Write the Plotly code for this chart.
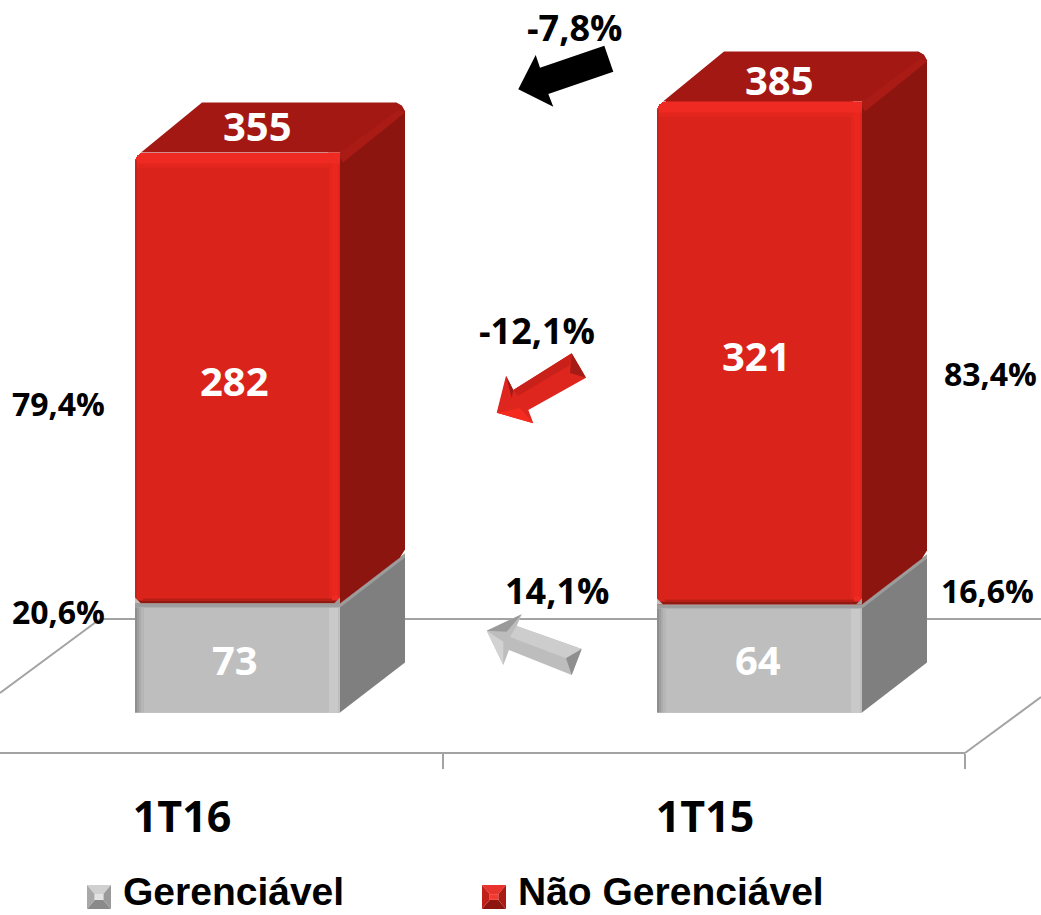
import plotly.graph_objects as go

# ---- data ----
periodos = ["1T16", "1T15"]
gerenciavel_rotulo = [73, 64]
nao_gerenciavel_rotulo = [282, 321]
total_rotulo = [355, 385]
gerenciavel_altura = [68.8, 68.1]      # drawn height, as measured on the picture
nao_gerenciavel_altura = [284.5, 317.4]
pct_gerenciavel = ["20,6%", "16,6%"]
pct_nao_gerenciavel = ["79,4%", "83,4%"]
var_total = "-7,8%"
var_nao_gerenciavel = "-12,1%"
var_gerenciavel = "14,1%"
serie_nomes = ["Gerenciável", "Não Gerenciável"]

# ---- layout constants ----
W, H = 1041, 915
PLOT_B = 753            # pixel row of the category axis
PX_X, PX_Y = 522.0, 1.585
X0_PX, Y0_PX = 237.5, 712.5
BAR_W = 205 / PX_X
DX, DY = 65 / PX_X, 50 / PX_Y
FONT = "Open Sans"
LEGEND_FONT = "Liberation Sans"
GRID = "#A3A3A3"
TOTAL_YSHIFT = [27, 22]
RED_YSHIFT = [-3, -2]
GREY_YSHIFT = [-2, -1]
GREY_XSHIFT = [-3, -2]


def ux(px):
    return px / PX_X


def uy(px):
    return px / PX_Y


def P(x, y):
    return x / W, 1 - y / PLOT_B


fig = go.Figure()
xs = list(range(len(periodos)))

# front faces: real stacked bars; base colour is the bevel highlight
fig.add_bar(x=xs, y=gerenciavel_altura, width=BAR_W, marker_color="#C9C9C9", name=serie_nomes[0],
            marker_line_width=0, showlegend=False, hoverinfo="skip")
fig.add_bar(x=xs, y=nao_gerenciavel_altura, width=BAR_W, marker_color="#EE2A22", name=serie_nomes[1],
            marker_line_width=0, showlegend=False, hoverinfo="skip")


def poly(pts, color):
    px_, py_ = zip(*pts)
    fig.add_scatter(x=list(px_) + [px_[0]], y=list(py_) + [py_[0]], mode="lines",
                    fill="toself", fillcolor=color, line=dict(width=0),
                    showlegend=False, hoverinfo="skip")


def rect(x0, x1, y0, y1, color):
    poly([(x0, y0), (x1, y0), (x1, y1), (x0, y1)], color)


for i in xs:
    l, r = i - BAR_W / 2, i + BAR_W / 2
    g = gerenciavel_altura[i]
    t = g + nao_gerenciavel_altura[i]
    c = ux(9)   # rounding of the far corner
    cy = uy(9)
    # grey side
    poly([(r, 0), (r + DX, DY), (r + DX, g + DY), (r, g)], "#7F7F7F")
    poly([(r, g), (r + DX, g + DY), (r + DX, g + DY - uy(4)), (r, g - uy(4))], "#9C9C9C")
    # red side
    poly([(r, g), (r + DX - ux(5), g + DY - uy(4)), (r + DX, g + DY + uy(4)), (r + DX, t + DY - cy),
          (r + DX - c * .35, t + DY - cy * .35), (r + DX - c, t + DY), (r, t)], "#8C150F")
    # red top
    poly([(l + ux(6), t), (l + DX + ux(2), t + DY), (r + DX - c, t + DY),
          (r + DX - c * .35, t + DY - cy * .35), (r + DX, t + DY - cy), (r, t)], "#A31813")
    # bevel along the top-right edge
    poly([(r - ux(2), t - uy(2)), (r + DX - c * .8, t + DY - cy * .8), (r + DX, t + DY - cy * 1.1),
          (r + ux(3), t - uy(10))], "#AA1B15")
    # squared-off highlight at the near top-right corner
    poly([(r - ux(12), t), (r, t), (r, t - uy(12))], "#EE2A22")
    # red front inner face, with stepped soft bevels
    rect(l + ux(2), r - ux(11), g + uy(3), t - uy(15), "#DA241B")
    rect(l + ux(2), r - ux(11), t - uy(15), t - uy(11), "#E2261D")
    rect(r - ux(11), r - ux(8), g + uy(3), t - uy(11), "#E2261D")
    rect(r - ux(8), r - ux(2), g + uy(8), t - uy(11), "#EB261E")
    rect(r - ux(2), r, g + uy(6), t - uy(11), "#DF241C")
    rect(l, r, g, g + uy(3), "#8F1A12")
    rect(l + ux(8), r - ux(8), g + uy(3), g + uy(5), "#B81E16")
    rect(l, l + ux(2), g + uy(3), t - uy(8), "#C8221A")
    # rounded lower corners of the red block
    poly([(l, g), (l + ux(6), g), (l, g + uy(6))], "#C0C0C0")
    poly([(r, g), (r - ux(6), g), (r, g + uy(6))], "#9C9C9C")
    # grey front inner face, with stepped soft bevels
    rect(l, r - ux(11), 0, g - uy(4), "#BEBEBE")
    rect(l, r, g - uy(4), g, "#9E9E9E")
    rect(r - ux(2), r, 0, g - uy(4), "#BEBEBE")
    rect(l, l + ux(2), 0, g - uy(4), "#8E8E8E")
    rect(l + ux(2), l + ux(4), 0, g - uy(4), "#9E9E9E")
    rect(l + ux(4), l + ux(6), 0, g - uy(4), "#ABABAB")
    rect(l + ux(6), l + ux(9), 0, g - uy(4), "#B6B6B6")

annotations = []


def txt(s, x, y, size, color="#000000", family=FONT):
    px_, py_ = P(x, y)
    annotations.append(dict(text=f"<b>{s}</b>", x=px_, y=py_, xref="paper", yref="paper",
                            showarrow=False, xanchor="center", yanchor="middle",
                            font=dict(family=family, size=size, color=color)))


def bar_label(value, i, y, xshift, yshift):
    annotations.append(dict(text=f"<b>{value}</b>", x=i, y=y, xref="x", yref="y",
                            xshift=xshift, yshift=yshift, showarrow=False,
                            xanchor="center", yanchor="middle",
                            font=dict(family=FONT, size=40, color="#FFFFFF")))


for i in xs:
    g = gerenciavel_altura[i]
    n = nao_gerenciavel_altura[i]
    bar_label(gerenciavel_rotulo[i], i, g / 2, GREY_XSHIFT[i], GREY_YSHIFT[i])
    bar_label(nao_gerenciavel_rotulo[i], i, g + n / 2, -3, RED_YSHIFT[i])
    bar_label(total_rotulo[i], i, g + n, 19.5, TOTAL_YSHIFT[i])

txt(pct_nao_gerenciavel[0], 58, 403, 32)
txt(pct_gerenciavel[0], 58, 611, 32)
txt(pct_nao_gerenciavel[1], 990, 373, 32)
txt(pct_gerenciavel[1], 987, 590, 32)
txt(var_total, 574, 28, 36)
txt(var_nao_gerenciavel, 537, 330, 36)
txt(var_gerenciavel, 557, 590, 36)
txt(serie_nomes[0], 233, 891, 39, family=LEGEND_FONT)
txt(serie_nomes[1], 671, 891, 39, family=LEGEND_FONT)

shapes = []


def line(x0, y0, x1, y1):
    a, b = P(x0, y0)
    c, d = P(x1, y1)
    shapes.append(dict(type="line", xref="paper", yref="paper", x0=a, y0=b, x1=c, y1=d,
                       line=dict(color=GRID, width=2), layer="below"))


def arrow(pts, color):
    path = "M " + " L ".join("%.5f,%.5f" % P(*p) for p in pts) + " Z"
    shapes.append(dict(type="path", xref="paper", yref="paper", path=path,
                       fillcolor=color, line=dict(width=0), layer="above"))


def swatch(x, y, s, top, bottom, left, right, centre):
    a, b = x + s, y + s
    cx0, cx1, cy0, cy1 = x + s * .32, x + s * .68, y + s * .38, y + s * .62
    arrow([(x, y), (a, y), (cx1, cy0), (cx0, cy0)], top)
    arrow([(x, b), (a, b), (cx1, cy1), (cx0, cy1)], bottom)
    arrow([(x, y), (cx0, cy0), (cx0, cy1), (x, b)], left)
    arrow([(a, y), (cx1, cy0), (cx1, cy1), (a, b)], right)
    arrow([(cx0, cy0), (cx1, cy0), (cx1, cy1), (cx0, cy1)], centre)


# floor of the 3D box
line(0, 753, 965, 753)
line(965, 753, 1041, 697)
line(0, 693, 100, 619)
line(100, 619, 1041, 619)

# black arrow
arrow([(604.3, 45.7), (613.3, 71.7), (548.3, 94), (553.3, 106.7), (518.3, 89.3), (535.7, 55), (540, 67.7)], "#000000")
# red arrow
arrow([(571.7, 353.3), (586, 377.7), (528.3, 410), (533.3, 423.3), (496.7, 412.7), (506, 375.7), (513.3, 390)], "#DE261E")
arrow([(571.7, 353.3), (586, 377.7), (570, 373)], "#A51C16")
arrow([(571.7, 353.3), (513.3, 390), (518, 396), (570, 365)], "#C9211A")
arrow([(506, 375.7), (513.3, 390), (511.7, 398)], "#9E1B15")
arrow([(496.7, 412.7), (533.3, 423.3), (520, 408.3)], "#F62B20")
# grey arrow
arrow([(486.7, 630.7), (521.7, 614.3), (516.7, 626), (581.7, 649), (571.7, 675), (509, 650), (503.3, 665)], "#BDBDBD")
arrow([(516.7, 626), (581.7, 649), (566, 658.3), (510, 637)], "#CDCDCD")
arrow([(581.7, 649), (571.7, 675), (566, 658.3)], "#8F8F8F")
arrow([(486.7, 630.7), (521.7, 614.3), (506.7, 631.7)], "#9A9A9A")
arrow([(486.7, 630.7), (503.3, 665), (503.3, 641.7)], "#D2D2D2")

# legend swatches
swatch(87, 885, 24, "#D0D0D0", "#8A8A8A", "#A8A8A8", "#9A9A9A", "#E2E2E2")
swatch(482, 885, 24, "#E8342C", "#8C150F", "#C0201A", "#AA1B15", "#F23A30")

fig.update_layout(
    width=W, height=H, autosize=False,
    margin=dict(l=0, r=0, t=0, b=H - PLOT_B, pad=0, autoexpand=False),
    paper_bgcolor="#FFFFFF", plot_bgcolor="rgba(0,0,0,0)",
    barmode="stack", barcornerradius=9, showlegend=False,
    annotations=annotations, shapes=shapes,
    xaxis=dict(range=[-X0_PX / PX_X, (W - X0_PX) / PX_X], showgrid=False, zeroline=False,
               showline=False, ticks="", tickmode="array",
               tickvals=[(182 - X0_PX) / PX_X, (705 - X0_PX) / PX_X], ticktext=[f"<b>{p}</b>" for p in periodos],
               tickfont=dict(family=FONT, size=43, color="#000000"), ticklabelstandoff=35,
               minor=dict(tickmode="array", tickvals=[(443 - X0_PX) / PX_X, (965 - X0_PX) / PX_X],
                          ticks="outside", ticklen=15, tickcolor=GRID, tickwidth=2, showgrid=False)),
    yaxis=dict(range=[-(PLOT_B - Y0_PX) / PX_Y, Y0_PX / PX_Y], visible=False),
)

fig.write_html("out.html", config=dict(displayModeBar=False),
               post_script="document.body.style.margin='0';document.documentElement.style.overflow='hidden';")
